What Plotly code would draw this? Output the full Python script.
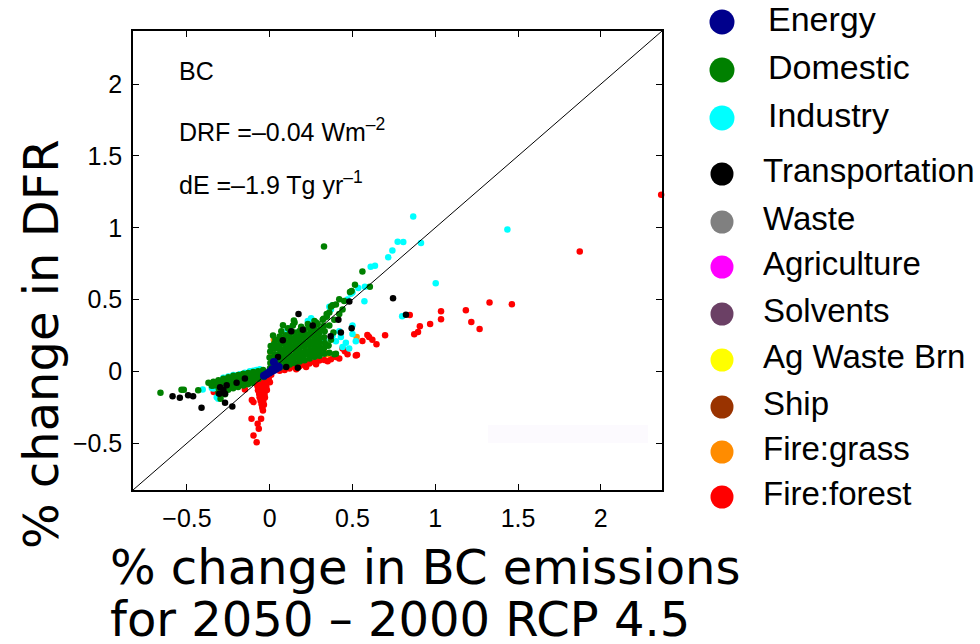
import plotly.graph_objects as go

W, H = 980, 644

# ---------------- data ----------------
AX_RANGE = [-0.826, 2.37]
TICK_VALS = [-0.5, 0, 0.5, 1, 1.5, 2]

sectors = ["Energy", "Domestic", "Industry", "Transportation", "Waste", "Agriculture",
           "Solvents", "Ag Waste Brn", "Ship", "Fire:grass", "Fire:forest"]
sector_colors = ["#00008C", "#008000", "#00FFFF", "#000000", "#808080", "#FF00FF",
                 "#6B4065", "#FFFF00", "#993300", "#FF8C00", "#FF0000"]

energy_pts = [(-0.035, -0.03), (-0.02, -0.02), (-0.005, -0.01), (0.01, 0.0), (0.025, 0.01),
              (0.04, 0.02), (0.055, 0.03), (0.025, 0.065), (0.0, -0.005), (0.015, 0.015),
              (0.045, 0.035)]

domestic_pts = [
    # left tail (sparse)
    (-0.66, -0.148), (-0.533, -0.128), (-0.519, -0.128), (-0.432, -0.132), (-0.326, -0.081),
    (-0.37, -0.08), (-0.35, -0.10), (-0.297, -0.19), (-0.27, -0.16), (-0.31, -0.15),
    # left lobe (dense)
    (-0.04, 0.01), (-0.045, -0.02), (-0.035, -0.04), (-0.07, 0.0), (-0.072, -0.028),
    (-0.068, -0.052), (-0.10, -0.004), (-0.102, -0.031), (-0.098, -0.058), (-0.105, -0.08),
    (-0.13, -0.012), (-0.128, -0.036), (-0.133, -0.061), (-0.131, -0.09), (-0.16, -0.02),
    (-0.158, -0.046), (-0.162, -0.071), (-0.16, -0.098), (-0.19, -0.026), (-0.192, -0.05),
    (-0.188, -0.081), (-0.191, -0.108), (-0.22, -0.031), (-0.218, -0.057), (-0.223, -0.084),
    (-0.221, -0.118), (-0.25, -0.041), (-0.252, -0.066), (-0.248, -0.092), (-0.251, -0.128),
    (-0.28, -0.052), (-0.279, -0.076), (-0.283, -0.101), (-0.281, -0.138), (-0.31, -0.061),
    (-0.312, -0.086), (-0.308, -0.118), (-0.34, -0.072), (-0.338, -0.099), (-0.24, -0.05),
    (-0.20, -0.04), (-0.16, -0.016), (-0.12, -0.045), (-0.14, -0.075), (-0.175, -0.06),
    (-0.205, -0.095), (-0.235, -0.072), (-0.265, -0.11), (-0.085, -0.015), (-0.055, -0.01),
    # right lobe (dense core)
    (0.002, 0.021), (0.004, 0.058), (-0.001, 0.097), (0.003, 0.138), (0.006, 0.176),
    (0.031, 0.018), (0.028, 0.052), (0.033, 0.083), (0.029, 0.118), (0.032, 0.157),
    (0.027, 0.193), (0.034, 0.221), (0.061, 0.027), (0.058, 0.061), (0.063, 0.092),
    (0.059, 0.121), (0.062, 0.152), (0.057, 0.183), (0.064, 0.212), (0.06, 0.243),
    (0.089, 0.036), (0.092, 0.069), (0.088, 0.102), (0.091, 0.129), (0.093, 0.161),
    (0.087, 0.192), (0.09, 0.221), (0.094, 0.252), (0.121, 0.047), (0.118, 0.079),
    (0.123, 0.108), (0.119, 0.142), (0.122, 0.171), (0.117, 0.201), (0.124, 0.232),
    (0.12, 0.262), (0.151, 0.058), (0.148, 0.091), (0.153, 0.118), (0.149, 0.152),
    (0.152, 0.181), (0.147, 0.212), (0.154, 0.239), (0.15, 0.271), (0.181, 0.069),
    (0.178, 0.098), (0.183, 0.131), (0.179, 0.158), (0.182, 0.192), (0.177, 0.219),
    (0.184, 0.252), (0.18, 0.281), (0.211, 0.078), (0.208, 0.112), (0.213, 0.139),
    (0.209, 0.171), (0.212, 0.198), (0.207, 0.232), (0.214, 0.259), (0.21, 0.291),
    (0.241, 0.089), (0.238, 0.121), (0.243, 0.148), (0.239, 0.182), (0.242, 0.209),
    (0.237, 0.241), (0.244, 0.268), (0.24, 0.302), (0.271, 0.101), (0.268, 0.128),
    (0.273, 0.162), (0.269, 0.189), (0.272, 0.221), (0.267, 0.248), (0.274, 0.282),
    (0.27, 0.311), (0.301, 0.109), (0.298, 0.142), (0.303, 0.169), (0.299, 0.201),
    (0.302, 0.229), (0.297, 0.262), (0.304, 0.291), (0.33, 0.122), (0.328, 0.161),
    (0.333, 0.198), (0.329, 0.238), (0.332, 0.279), (0.327, 0.318), (0.36, 0.13),
    (0.39, 0.12), (0.355, 0.18), (0.37, 0.22), (0.385, 0.27), (0.36, 0.32),
    # fringe above the core
    (0.02, 0.25), (0.07, 0.28), (0.11, 0.30), (0.14, 0.32), (0.19, 0.31),
    (0.23, 0.33), (0.28, 0.34), (0.32, 0.36), (0.345, 0.38), (0.39, 0.36),
    # scattered upper right
    (0.328, 0.87), (0.56, 0.696), (0.515, 0.603), (0.485, 0.552), (0.495, 0.56),
    (0.42, 0.503), (0.40, 0.466), (0.38, 0.46), (0.37, 0.45), (0.344, 0.40),
    (0.325, 0.367), (0.29, 0.33), (0.25, 0.31), (0.146, 0.355), (0.15, 0.34),
    (0.08, 0.322), (0.605, 0.59), (0.45, 0.49), (0.36, 0.41), (0.27, 0.35),
    (0.40, 0.123), (0.353, 0.18), (0.42, 0.40), (0.44, 0.43),
]

industry_pts = [
    (0.867, 1.079), (1.436, 0.988), (0.773, 0.902), (0.807, 0.90), (0.914, 0.893),
    (0.741, 0.842), (0.716, 0.795), (0.61, 0.728), (0.636, 0.735), (1.003, 0.614),
    (0.535, 0.58), (0.575, 0.59), (0.572, 0.489), (0.49, 0.54), (0.50, 0.55),
    (0.47, 0.50), (0.36, 0.45), (0.38, 0.46), (0.37, 0.43), (0.80, 0.383),
    (0.107, 0.29), (0.12, 0.30), (0.50, 0.32), (0.50, 0.26), (0.52, 0.21),
    (0.43, 0.24), (0.42, 0.28), (0.40, 0.21), (0.38, 0.25), (0.33, 0.22),
    (0.30, 0.27), (0.28, 0.24), (0.23, 0.35), (0.25, 0.37), (0.44, 0.17),
    (0.46, 0.20), (0.48, 0.16), (0.15, 0.22), (0.20, 0.12), (0.25, 0.18),
    (0.10, 0.20), (0.17, 0.27),
    (-0.405, -0.126), (-0.35, -0.116), (-0.34, -0.12), (-0.311, -0.19), (-0.32, -0.18),
    (-0.28, -0.045), (-0.25, -0.035), (-0.22, -0.025), (-0.20, -0.03), (-0.18, -0.02),
    (-0.15, -0.01), (-0.12, 0.0), (-0.10, 0.005), (-0.24, -0.10), (-0.21, -0.09),
    (-0.08, 0.01), (-0.06, 0.015),
]

transport_pts = [
    (0.745, 0.51), (0.823, 0.394), (0.481, 0.487), (0.174, 0.40), (0.415, 0.36),
    (0.495, 0.30), (0.368, 0.244), (0.20, 0.29), (0.17, 0.026), (0.079, 0.216),
    (0.13, 0.28), (0.26, 0.32), (0.43, 0.27), (0.10, 0.03), (0.05, 0.10),
    (-0.587, -0.174), (-0.543, -0.183), (-0.493, -0.167), (-0.463, -0.174),
    (-0.412, -0.253), (-0.27, -0.218), (-0.226, -0.244), (-0.305, -0.155),
    (-0.28, -0.13), (-0.27, -0.155), (-0.30, -0.11), (-0.26, -0.097), (-0.20, -0.08),
    (-0.15, -0.05),
]

waste_pts = []
agriculture_pts = []
solvents_pts = []
agwaste_pts = []
ship_pts = []

firegrass_pts = [(0.025, 0.22), (0.007, 0.13), (0.525, 0.24), (0.338, 0.128),
                 (0.35, 0.12), (0.02, 0.10), (0.30, 0.14)]

fireforest_pts = [
    (2.365, 1.23), (1.873, 0.835), (1.328, 0.479), (1.463, 0.467), (1.185, 0.426),
    (1.035, 0.419), (1.035, 0.363), (1.218, 0.344), (1.268, 0.295), (0.846, 0.393),
    (0.907, 0.314), (0.896, 0.274), (0.873, 0.258), (0.969, 0.33), (0.697, 0.251),
    (0.59, 0.253), (0.56, 0.211), (0.645, 0.188), (0.527, 0.114), (0.454, 0.14),
    (0.44, 0.16), (0.52, 0.11), (0.47, 0.12), (0.40, 0.10), (0.37, 0.085), (0.33, 0.08),
    (0.30, 0.075), (0.27, 0.065), (0.24, 0.055), (0.21, 0.045), (0.18, 0.035), (0.15, 0.03),
    (0.12, 0.02), (0.09, 0.01), (0.06, 0.005), (0.60, 0.24), (0.62, 0.22), (0.35, 0.07),
    (0.28, 0.05), (0.22, 0.03), (0.16, 0.015), (0.42, 0.09),
    (-0.172, -0.835), (-0.098, -0.214), (-0.11, -0.33), (-0.052, -0.33), (-0.073, -0.365),
    (-0.066, -0.40), (-0.098, -0.447), (-0.079, -0.493), (-0.041, -0.272), (-0.33, -0.14),
    (-0.338, -0.144), (-0.15, -0.127), (-0.108, -0.20),
    # dense wedge below the origin
    (-0.09, -0.03), (-0.071, -0.028), (-0.052, -0.033), (-0.029, -0.031), (-0.011, -0.027),
    (0.009, -0.024), (-0.086, -0.055), (-0.066, -0.057), (-0.044, -0.052), (-0.026, -0.056),
    (-0.006, -0.053), (-0.079, -0.082), (-0.061, -0.078), (-0.041, -0.081), (-0.019, -0.079),
    (0.001, -0.076), (-0.074, -0.104), (-0.056, -0.107), (-0.038, -0.103), (-0.021, -0.106),
    (-0.071, -0.131), (-0.052, -0.128), (-0.034, -0.132), (-0.017, -0.129), (-0.064, -0.156),
    (-0.047, -0.153), (-0.031, -0.157), (-0.061, -0.181), (-0.044, -0.178), (-0.029, -0.182),
    (-0.055, -0.204), (-0.039, -0.207), (-0.049, -0.229), (-0.035, -0.232), (-0.045, -0.251),
]

sector_points = {
    "Energy": energy_pts, "Domestic": domestic_pts, "Industry": industry_pts,
    "Transportation": transport_pts, "Waste": waste_pts, "Agriculture": agriculture_pts,
    "Solvents": solvents_pts, "Ag Waste Brn": agwaste_pts, "Ship": ship_pts,
    "Fire:grass": firegrass_pts, "Fire:forest": fireforest_pts,
}

annot_lines = ["BC", "DRF =–0.04 Wm<sup>–2</sup>", "dE =–1.9 Tg yr<sup>–1</sup>"]
x_title_lines = ["% change in BC emissions", "for 2050 – 2000 RCP 4.5"]
y_title = "% change in DFR"

# ---------------- layout helpers (pixel -> paper) ----------------
def px(x):
    return x / W

def py(y):
    return 1 - y / H

PLOT_L, PLOT_R, PLOT_T, PLOT_B = 133, 662, 31, 490
color_of = dict(zip(sectors, sector_colors))

fig = go.Figure()

draw_order = ["Fire:forest", "Fire:grass", "Ship", "Ag Waste Brn", "Solvents", "Agriculture",
              "Waste", "Industry", "Domestic", "Transportation"]
for name in draw_order:
    pts = sector_points[name]
    fig.add_trace(go.Scatter(
        x=[p[0] for p in pts], y=[p[1] for p in pts], mode="markers", name=name,
        marker=dict(size=6.5, color=color_of[name], opacity=1, line=dict(width=0)),
        showlegend=False, cliponaxis=False, xaxis="x", yaxis="y"))

# 1:1 line
fig.add_trace(go.Scatter(x=AX_RANGE, y=AX_RANGE, mode="lines",
                         line=dict(color="black", width=1), showlegend=False,
                         xaxis="x", yaxis="y"))

fig.add_trace(go.Scatter(
    x=[p[0] for p in energy_pts], y=[p[1] for p in energy_pts], mode="markers",
    name="Energy", marker=dict(size=8, color=color_of["Energy"], opacity=1, line=dict(width=0)),
    showlegend=False, xaxis="x", yaxis="y"))

# ---------------- custom legend on its own pixel axis ----------------
legend_row_y = [22, 70, 118, 174, 222, 267, 314, 360, 407, 452, 497]
legend_marker_x = 722
legend_text_x = [768, 768, 768] + [763] * 8
legend_marker_size = [25, 25, 25] + [23] * 8
legend_font_size = [34, 34, 34] + [33] * 8

fig.add_trace(go.Scatter(
    x=[legend_marker_x] * len(sectors), y=legend_row_y, mode="markers",
    marker=dict(size=legend_marker_size, color=sector_colors, opacity=1, line=dict(width=0)),
    showlegend=False, cliponaxis=False, xaxis="x2", yaxis="y2", hoverinfo="skip"))
fig.add_trace(go.Scatter(
    x=legend_text_x, y=legend_row_y, mode="text", text=sectors,
    textposition="middle right",
    textfont=dict(family="Liberation Sans, Arial, sans-serif", size=legend_font_size,
                  color="black"),
    showlegend=False, cliponaxis=False, xaxis="x2", yaxis="y2", hoverinfo="skip"))

axis_common = dict(
    range=AX_RANGE, tickvals=TICK_VALS, ticks="inside", ticklen=6, tickwidth=1,
    tickcolor="black", showline=True, linecolor="black", linewidth=1.5,
    mirror="ticks", showgrid=False, zeroline=False,
    tickfont=dict(family="Liberation Sans, Arial, sans-serif", size=25, color="black"),
)

fig.update_layout(
    width=W, height=H, margin=dict(l=0, r=0, t=0, b=0),
    paper_bgcolor="white", plot_bgcolor="white",
    xaxis=dict(domain=[px(PLOT_L), px(PLOT_R)], anchor="y", ticklabelstandoff=5,
               **axis_common),
    yaxis=dict(domain=[py(PLOT_B), py(PLOT_T)], anchor="x", ticklabelstandoff=4,
               **axis_common),
    xaxis2=dict(domain=[0.7, 1.0], range=[0.7 * W, W], visible=False, anchor="y2",
                fixedrange=True),
    yaxis2=dict(domain=[0, 1], range=[H, 0], visible=False, anchor="x2", fixedrange=True),
    showlegend=False,
)

# faint box artifact inside the axes
fig.add_shape(type="rect", xref="paper", yref="paper", x0=px(488), x1=px(648),
              y0=py(443), y1=py(425), fillcolor="#FCFAFE", line=dict(width=0), layer="below")

annot_font = dict(family="Liberation Sans, Arial, sans-serif", size=25, color="black")
for text, ypix in zip(annot_lines, [71, 130, 183]):
    fig.add_annotation(text=text, x=px(177), y=py(ypix), xref="paper", yref="paper",
                       xanchor="left", yanchor="middle", showarrow=False, font=annot_font)

title_font = dict(family="DejaVu Sans, sans-serif", size=48, color="black")
for text, ypix in zip(x_title_lines, [567, 619]):
    fig.add_annotation(text=text, x=px(108), y=py(ypix), xref="paper", yref="paper",
                       xanchor="left", yanchor="middle", showarrow=False, font=title_font)
fig.add_annotation(text=y_title, x=px(41), y=py(344), xref="paper", yref="paper",
                   xanchor="center", yanchor="middle", textangle=-90, showarrow=False,
                   font=title_font)

fig.write_html("out.html")
